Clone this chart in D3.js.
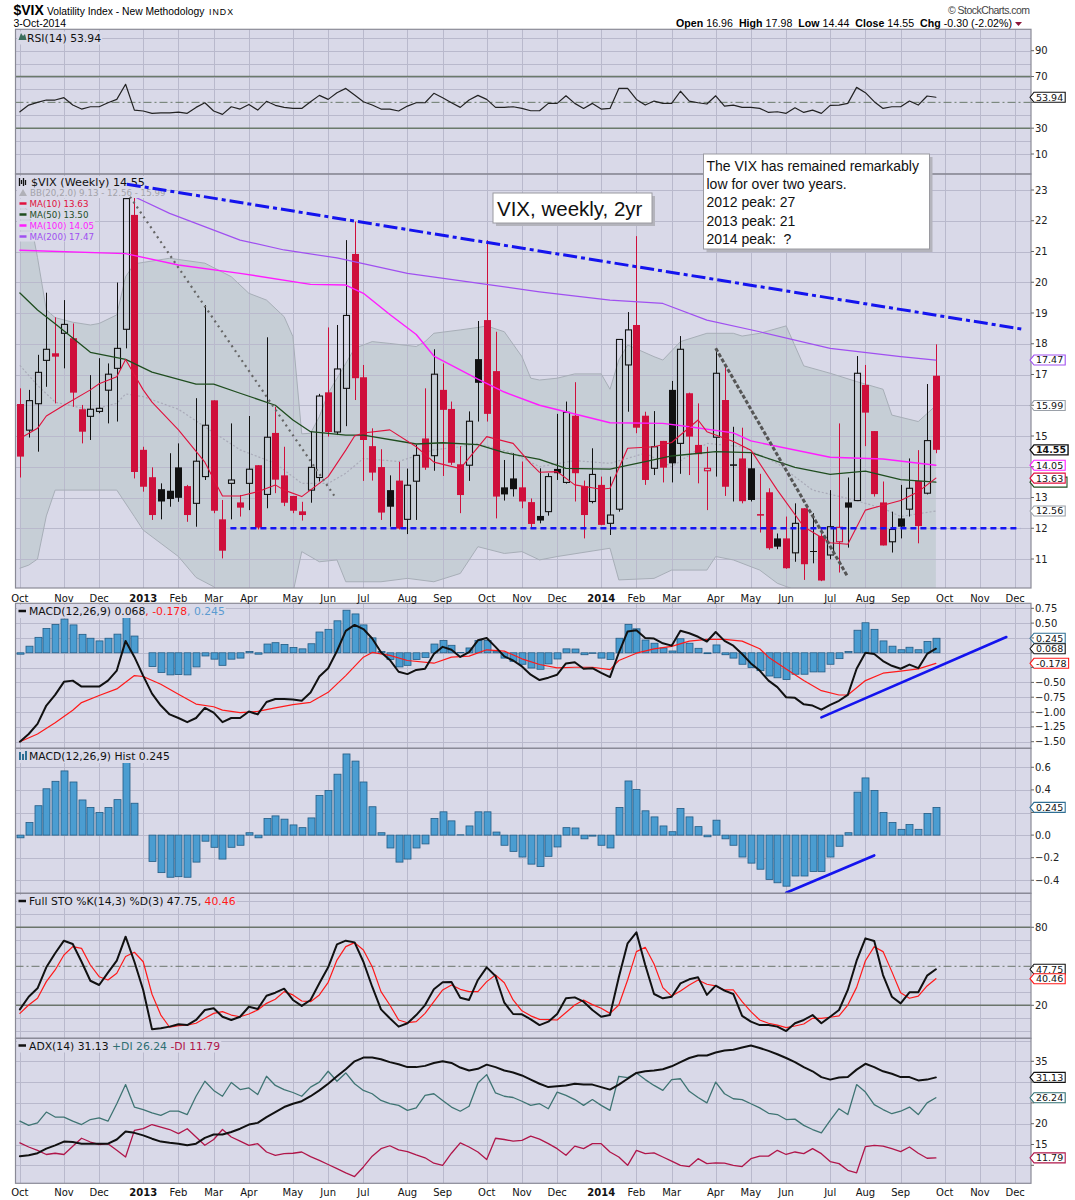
<!DOCTYPE html>
<html>
<head>
<meta charset="utf-8">
<title>$VIX weekly</title>
<script src="https://cdnjs.cloudflare.com/ajax/libs/d3/7.8.5/d3.min.js"></script>
<style>
  body { margin: 0; background: #fff; }
  svg { display: block; font-family: "DejaVu Sans", Verdana, sans-serif; }
  .arial { font-family: "Liberation Sans", Arial, sans-serif; }
</style>
</head>
<body>
<svg id="chart" width="1075" height="1200"></svg>
<script>
// weekly candles, index 0 = week of 1-Oct-2012, index 104 = week ending 3-Oct-2014
var opens = [16.04,15.19,16.05,17.46,17.69,18.34,18.18,15.87,15.64,15.80,
  16.49,17.20,18.47,22.19,14.55,13.66,13.27,13.22,13.98,13.37,
  12.81,13.68,16.16,12.29,13.46,12.84,13.46,14.05,13.10,15.10,
  13.72,13.05,12.55,13.24,13.65,16.42,15.13,16.55,20.92,16.91,
  14.67,13.99,13.24,13.55,12.29,13.53,14.92,14.36,16.50,15.88,
  14.08,14.05,17.50,18.77,17.11,13.33,13.62,13.33,12.85,12.40,
  12.54,13.93,13.49,15.66,13.37,12.87,13.41,12.16,12.62,17.31,
  18.61,15.66,13.95,14.84,16.50,14.76,16.39,14.71,13.87,14.96,
  16.17,14.08,14.27,13.95,12.46,13.17,11.67,11.67,11.20,12.65,
  11.26,11.75,11.13,11.56,12.84,12.90,16.66,15.16,12.84,11.56,
  12.32,12.62,13.54,13.14,16.96];
var highs = [16.55,16.50,17.64,19.66,18.86,19.42,18.66,16.01,16.98,17.53,
  17.36,19.99,22.75,22.94,14.65,13.98,13.46,14.44,14.76,13.41,
  16.23,19.26,16.16,12.92,15.41,13.08,15.65,14.05,18.21,15.95,
  14.65,13.05,12.86,15.14,16.37,18.53,18.61,21.37,21.97,17.31,
  15.25,14.57,13.72,14.16,13.94,14.71,16.55,17.82,17.36,16.12,
  14.67,15.80,18.74,21.37,18.39,14.22,14.44,14.17,12.97,13.95,
  13.79,15.72,16.12,16.75,13.55,14.60,13.68,13.68,18.14,19.03,
  21.50,15.79,15.81,14.84,16.79,18.25,16.41,16.06,14.65,17.85,
  17.25,15.30,15.27,14.44,13.77,13.30,11.83,12.38,12.81,12.65,
  12.49,11.99,13.24,15.41,13.65,17.60,17.31,15.16,13.52,12.54,
  13.41,14.27,14.54,16.69,17.98];
var lows = [13.65,14.95,14.49,16.60,16.06,17.20,15.95,14.76,14.87,15.74,
  15.41,15.47,17.85,13.62,13.19,12.27,12.29,12.70,12.86,12.21,
  12.05,13.57,12.49,11.02,12.29,12.38,12.59,11.96,12.65,13.14,
  12.72,12.49,12.25,12.83,13.52,14.98,15.03,15.32,16.17,13.54,
  13.55,12.27,12.05,11.96,11.81,12.27,13.90,13.87,13.70,14.06,
  12.49,13.54,15.47,15.47,12.32,12.90,13.03,12.65,12.00,12.16,
  12.41,13.57,13.45,12.87,11.67,12.81,12.10,11.78,12.54,15.79,
  15.09,13.41,13.73,13.49,13.49,13.77,13.73,13.46,12.59,13.68,
  13.05,12.87,12.81,12.87,11.86,11.30,11.32,10.68,10.91,10.32,
  10.86,10.28,10.99,10.56,11.37,12.90,14.67,13.03,11.44,11.21,
  11.67,12.38,11.51,13.10,14.44];
var closes = [14.33,16.15,17.07,17.82,17.58,18.63,16.41,15.14,15.87,15.90,
  17.01,17.85,22.72,13.83,13.35,12.43,12.87,12.95,12.99,12.43,
  14.18,15.35,12.57,11.27,13.57,12.67,13.92,12.02,14.96,13.58,
  12.83,12.57,12.43,13.98,16.30,15.13,17.18,18.92,16.88,14.87,
  13.81,12.51,12.70,11.99,13.40,14.37,13.97,17.01,15.85,14.13,
  13.08,15.48,16.73,15.72,13.03,13.10,13.27,12.87,12.14,12.25,
  13.68,13.79,15.77,13.79,12.43,13.75,12.11,12.43,18.14,18.45,
  15.27,13.57,14.65,13.97,14.11,17.82,14.98,14.41,13.95,17.04,
  13.35,14.03,12.88,12.92,12.41,11.35,11.40,10.70,12.16,10.83,
  11.23,10.30,12.05,12.03,12.67,17.04,15.76,13.11,11.44,11.96,
  12.05,13.30,12.07,14.85,14.55];

// price overlays, [week index, value]
var ma10 = [[0,14.92],[2,15.25],[3,15.65],[5,16.0],[8,16.5],[9,16.7],[11,16.93],[12,17.49],[14,16.5],[15,16.1],
  [18,15.2],[21,14.15],[23,13.05],[25,13.05],[27,13.19],[29,13.41],[30,13.24],[32,13.03],[35,13.68],[37,14.54],
  [38,15.0],[39,15.1],[42,15.2],[45,14.65],[47,14.15],[50,13.94],[53,14.98],[56,14.76],[58,14.1],[59,13.82],
  [61,13.84],[63,13.41],[66,13.27],[67,13.3],[69,14.6],[72,14.65],[74,14.79],[77,15.52],[78,15.14],[81,14.82],
  [83,14.54],[86,13.24],[89,12.05],[92,11.53],[94,11.48],[96,12.59],[98,12.75],[100,12.90],[102,13.19],[104,13.63]];
var ma50 = [[0,19.65],[2,19.1],[4,18.65],[8,17.72],[12,17.49],[15,17.08],[20,16.69],[22,16.69],[25,16.39],[29,16.0],
  [31,15.52],[33,15.14],[37,15.03],[39,15.03],[45,14.74],[48,14.78],[52,14.72],[55,14.46],[59,14.24],[62,13.95],
  [67,13.92],[71,14.17],[74,14.35],[79,14.49],[83,14.46],[88,13.98],[92,13.75],[96,13.86],[100,13.58],[104,13.50]];
var ma100 = [[0,21.04],[12,20.93],[18,20.56],[25,20.29],[33,19.93],[37,19.91],[39,19.64],[42,18.95],[45,18.3],[47,17.6],
  [52,16.85],[55,16.43],[59,16.0],[67,15.43],[73,15.41],[76,15.30],[81,15.10],[83,14.84],[92,14.31],[98,14.25],[104,14.05]];
var ma200 = [[13,22.78],[17,22.24],[25,21.37],[30,21.05],[36,20.79],[44,20.29],[59,19.69],[67,19.42],[73,19.31],[78,18.77],
  [84,18.39],[92,17.85],[100,17.58],[104,17.47]];
var bbUpper = [[0,22.6],[1,22.3],[2,20.8],[3,19.1],[4,18.85],[6,18.7],[8,18.61],[9,18.66],[11,18.94],[12,20.18],
  [13,20.6],[17,20.78],[21,20.62],[24,20.18],[26,19.64],[28,19.42],[30,18.88],[31,18.23],[32,15.07],[33,15.09],
  [34,15.63],[35,16.39],[37,17.36],[38,17.85],[40,18.07],[42,18.01],[45,17.91],[46,18.07],[47,18.34],[50,18.45],
  [52,18.53],[53,18.58],[55,18.39],[57,17.58],[58,16.88],[59,16.82],[61,16.88],[63,17.02],[66,17.02],[67,16.52],
  [68,17.47],[69,17.96],[72,17.58],[73,17.47],[75,18.07],[78,18.34],[81,18.34],[82,18.25],[84,18.34],[87,18.58],
  [89,17.28],[92,17.04],[95,16.77],[98,16.52],[99,15.68],[102,15.47],[104,15.99]];
var bbMiddle = [[0,17.3],[2,16.65],[4,16.1],[8,15.85],[11,16.06],[12,16.37],[14,16.28],[18,15.87],[21,15.30],[25,14.55],
  [29,14.11],[32,13.46],[35,13.46],[37,13.79],[39,14.27],[43,14.17],[47,14.55],[50,14.65],[52,14.76],[56,14.44],
  [59,14.0],[63,14.2],[67,14.11],[71,14.44],[74,14.0],[78,14.76],[82,14.65],[86,14.11],[90,13.24],[94,12.97],
  [98,12.65],[100,12.38],[104,12.56]];
var bbLower = [[0,10.7],[1,10.8],[2,11.0],[3,12.4],[4,13.24],[11,13.24],[13,12.38],[14,11.94],[18,11.08],[20,10.4],
  [22,10.10],[23,9.8],[27,9.6],[31,9.9],[32,11.24],[34,10.91],[36,10.97],[37,10.26],[41,10.26],[44,10.37],
  [47,10.26],[50,10.53],[52,11.40],[55,11.18],[57,11.24],[59,10.97],[61,11.08],[67,11.35],[68,10.32],[72,10.37],
  [74,10.64],[78,10.64],[79,11.08],[81,10.97],[84,10.64],[86,10.21],[88,10.0],[92,9.6],[98,9.35],[104,9.13]];

// indicator panels, one value per week
var rsi = [42.7,47.9,50.0,51.8,51.8,53.6,47.9,44.8,46.6,46.6, 49.7,52.3,64.0,44.0,43.3,41.5,41.9,41.9,42.5,41.5,
  46.1,49.7,43.3,40.7,46.6,44.8,48.4,44.0,50.8,47.7, 46.1,45.3,45.3,50.5,55.4,52.3,57.5,60.8,55.7,50.5,
  47.9,44.8,44.8,43.3,47.1,49.7,49.7,57.0,53.6,49.7, 46.1,51.8,55.4,52.3,46.1,46.1,46.6,45.3,43.5,43.5,
  49.2,49.2,55.1,49.2,45.3,49.2,44.8,45.3,60.8,60.8, 52.3,47.9,51.0,49.2,49.2,58.6,51.0,49.7,48.7,55.1,
  47.1,47.9,46.1,46.1,45.3,42.2,42.7,41.5,45.8,42.2, 44.0,41.5,47.7,47.9,49.2,61.6,57.5,50.5,45.3,46.6,
  46.6,51.0,47.9,54.9,53.94];
var macd = [-1.50,-1.37,-1.20,-0.89,-0.71,-0.49,-0.47,-0.57,-0.57,-0.57, -0.47,-0.30,0.20,-0.07,-0.39,-0.69,-0.89,-1.04,-1.10,-1.17,
  -1.10,-0.93,-1.01,-1.17,-1.10,-1.10,-0.99,-1.04,-0.83,-0.78, -0.78,-0.79,-0.81,-0.67,-0.40,-0.26,0.03,0.37,0.47,0.40,
  0.24,0.01,-0.12,-0.32,-0.36,-0.29,-0.27,-0.02,0.10,0.05, -0.07,0.01,0.21,0.25,0.10,-0.06,-0.13,-0.23,-0.37,-0.46,
  -0.42,-0.37,-0.18,-0.16,-0.27,-0.26,-0.34,-0.41,0.00,0.36, 0.38,0.25,0.24,0.16,0.12,0.37,0.33,0.27,0.19,0.35,
  0.20,0.12,-0.02,-0.18,-0.30,-0.47,-0.58,-0.75,-0.76,-0.87, -0.89,-0.96,-0.88,-0.81,-0.71,-0.27,0.00,-0.02,-0.14,-0.22,
  -0.27,-0.20,-0.26,-0.02,0.068];
var macdSignal = [[0,-1.50],[2,-1.37],[4,-1.18],[6,-0.97],[7,-0.84],[9,-0.72],[11,-0.61],[13,-0.385],[14,-0.40],[16,-0.53],
  [18,-0.70],[20,-0.865],[22,-0.91],[23,-0.967],[25,-1.01],[27,-0.99],[29,-0.93],[31,-0.876],[33,-0.836],[35,-0.667],
  [37,-0.385],[39,-0.074],[40,0.006],[42,-0.045],[44,-0.13],[47,-0.176],[49,-0.074],[51,-0.057],[53,0.05],[55,0.028],
  [57,-0.102],[59,-0.198],[61,-0.255],[63,-0.244],[65,-0.244],[67,-0.283],[68,-0.13],[70,-0.007],[72,0.067],[74,0.107],
  [76,0.197],[78,0.225],[80,0.225],[82,0.197],[84,0.067],[85,-0.074],[87,-0.272],[89,-0.469],[91,-0.639],[93,-0.712],
  [94,-0.712],[96,-0.469],[98,-0.345],[100,-0.311],[102,-0.272],[104,-0.178]];
var macdHist = [-0.024,0.111,0.260,0.410,0.476,0.568,0.470,0.311,0.245,0.200, 0.245,0.314,0.664,0.282,0.0,-0.233,-0.332,-0.373,-0.368,-0.373,
  -0.239,-0.054,-0.108,-0.212,-0.108,-0.090,0.021,-0.024,0.147,0.170, 0.141,0.090,0.066,0.152,0.350,0.395,0.539,0.718,0.655,0.470,
  0.251,0.021,-0.114,-0.239,-0.212,-0.114,-0.078,0.147,0.206,0.126, 0.003,0.081,0.206,0.206,0.027,-0.090,-0.144,-0.194,-0.257,-0.278,
  -0.188,-0.105,0.066,0.063,-0.033,-0.009,-0.090,-0.114,0.245,0.479, 0.404,0.215,0.161,0.081,0.030,0.236,0.161,0.075,-0.015,0.132,
  -0.033,-0.090,-0.194,-0.248,-0.302,-0.392,-0.422,-0.452,-0.362,-0.362, -0.323,-0.323,-0.194,-0.099,0.021,0.380,0.506,0.395,0.200,0.111,
  0.051,0.093,0.051,0.191,0.245];
var stoK = [16.9,26.6,33.1,49.2,60.0,69.7,67.2,53.5,38.9,35.6, 45.1,54.3,72.8,53.5,31.8,1.5,2.3,3.6,5.4,4.8,
  8.7,16.4,17.7,11.2,8.7,11.2,18.9,17.2,27.4,29.7, 32.8,24.1,19.5,24.1,36.9,49.2,66.9,69.7,68.4,53.5,
  34.3,16.9,10.0,3.6,6.2,12.5,20.2,32.3,37.7,37.9, 25.8,24.1,39.5,49.2,42.5,22.0,13.3,13.1,9.2,4.8,
  7.4,13.3,25.4,26.1,22.8,16.4,11.2,12.5,41.5,67.7, 76.1,51.0,28.7,25.4,26.6,36.9,40.0,41.5,28.0,35.1,
  31.3,28.7,11.9,7.4,4.8,4.8,3.6,0.2,6.2,8.7, 12.5,6.2,11.2,16.4,31.8,54.3,71.5,69.5,43.3,26.6,
  21.5,30.0,30.0,42.8,47.75];
var stoD = [13.8,20.2,25.4,38.2,47.2,58.7,65.1,63.8,51.0,42.0, 39.5,44.6,57.5,60.8,53.5,28.5,12.5,3.1,4.3,4.8,
  6.2,10.0,13.8,15.1,12.5,11.2,13.3,16.4,21.5,24.6, 30.5,28.0,23.3,22.8,28.0,37.7,54.8,65.1,68.2,62.6,
  49.7,30.5,20.2,8.7,6.6,7.4,13.8,22.8,31.8,35.6, 32.3,30.5,30.5,38.2,43.3,37.4,24.1,15.8,11.9,9.2,
  9.0,8.7,14.5,20.2,24.0,20.5,17.7,13.8,20.2,39.5, 61.3,64.6,51.8,33.6,27.1,31.0,35.6,39.5,36.2,34.9,
  31.8,31.8,22.8,15.1,8.7,6.2,4.8,2.8,4.1,5.6, 10.0,10.0,10.8,11.9,20.2,33.8,54.3,65.1,61.3,45.9,
  29.7,25.4,27.1,34.9,40.46];
var adx = [12.2,12.4,12.9,14.0,14.8,15.7,15.6,15.2,15.2,15.2, 15.2,16.2,18.1,17.8,17.2,16.4,15.7,15.4,15.2,14.8,
  15.2,16.6,17.4,17.4,18.0,18.8,19.8,20.2,21.6,22.8, 24.0,24.8,25.4,26.6,28.0,29.6,31.4,33.1,35.0,35.9,
  35.9,35.5,34.8,34.3,33.6,33.6,33.9,34.6,35.0,34.6, 33.5,32.8,33.2,34.2,33.6,32.8,32.3,31.6,30.6,29.6,
  28.8,29.0,29.2,29.6,29.4,29.4,28.8,28.2,29.4,30.8, 32.2,32.6,32.8,33.1,33.8,34.8,35.8,36.4,36.4,37.1,
  37.6,37.8,38.3,38.8,38.2,37.5,36.7,35.8,34.8,33.6, 32.6,31.2,30.6,31.1,31.2,33.0,34.4,33.6,32.6,32.0,
  31.2,31.2,30.4,30.6,31.13];
var plusDI = [20.6,19.6,20.2,22.8,21.6,21.6,20.6,19.8,21.0,21.4, 20.6,24.8,29.4,24.0,23.4,22.6,22.0,23.0,23.0,22.2,
  26.6,30.2,28.0,26.6,29.9,28.2,28.6,27.0,31.4,29.2, 28.2,27.5,26.6,28.8,30.0,32.6,30.2,32.2,29.6,28.0,
  27.2,25.6,24.8,24.4,23.2,23.8,26.8,27.2,25.6,24.0, 23.0,24.2,29.8,31.8,27.4,26.6,26.3,25.4,24.4,24.8,
  23.6,27.6,26.8,25.8,24.4,25.8,24.4,23.2,31.4,31.1, 32.2,30.6,29.2,28.0,30.6,30.8,27.8,26.3,25.0,30.0,
  27.2,26.0,25.8,24.8,23.8,22.5,22.2,21.0,21.1,19.6, 18.6,17.8,20.8,23.6,22.2,29.4,27.6,24.6,23.4,22.4,
  23.0,24.0,22.2,25.0,26.24];
var minusDI = [15.4,14.4,13.6,12.6,12.9,12.6,14.6,16.5,15.6,15.0, 15.2,13.6,12.0,18.4,18.8,19.8,19.2,18.6,17.6,18.8,
  16.8,14.8,16.2,18.6,16.8,15.8,14.8,15.2,13.2,12.4, 12.8,12.9,13.2,12.1,11.2,10.2,9.2,8.2,7.3,9.6,
  12.2,14.0,14.7,13.7,13.3,12.5,11.8,10.5,10.0,12.9, 15.4,14.4,13.2,11.4,16.5,16.2,15.8,16.0,17.0,16.3,
  15.2,14.0,12.4,14.6,14.0,15.2,15.2,13.2,12.0,10.0, 13.6,12.8,13.0,12.0,11.0,10.0,9.7,11.6,10.4,10.6,
  10.5,10.0,9.7,11.6,12.2,12.2,13.6,12.6,13.2,12.8, 14.0,12.8,10.9,10.4,8.8,8.2,14.5,14.8,14.6,14.0,
  13.3,14.4,12.9,11.7,11.79];

// hand drawn annotations, [week index, value]
var resistanceLine = [[12.15,23.19],[113.9,18.47]];
var supportLine = [[23.9,12],[113.6,12]];
var fallLine2013 = [[12.5,22.78],[35.9,12.97]];
var fallLine2014 = [[79,17.85],[94,10.42]];
var macdRiseLine = [[91,-1.09],[112,0.265]];
var histRiseLine = [[87,-0.51],[97,-0.18]];

// tick values for the right hand axes
var rsiTicks = [10, 30, 50, 70, 90];
var priceTicks = [11, 12, 13, 14, 15, 16, 17, 18, 19, 20, 21, 22, 23];
var macdTicks = [-1.5, -1.25, -1, -0.75, -0.5, -0.25, 0, 0.25, 0.5, 0.75];
var histTicks = [-0.4, -0.2, 0, 0.2, 0.4, 0.6];
var stoTicks = [20, 50, 80];
var adxTicks = [10, 15, 20, 25, 30, 35];

var noteLines = ["The VIX has remained remarkably", "low for over two years.", "2012 peak: 27", "2013 peak: 21", "2014 peak:  ?"];

// ---------------------------------------------------------------
var BG = "#d9d9e8", GRID = "#b9b9cc", BORDER = "#8a8a96";
var RED = "#cf0f3b", BLACK = "#111";
var plotL = 15.5, plotR = 1031;
var last = closes.length - 1;

var svg = d3.select("#chart");
var defs = svg.append("defs");
var x = d3.scaleLinear().domain([-0.5, 114.8]).range([plotL, plotR]);

// month grid: first weekly bar of each month
var weeks = d3.timeMonday.range(new Date(2012, 9, 1), new Date(2015, 0, 1));
var monthTicks = [];
weeks.forEach(function (d, i) {
	if (i === 0 || d.getMonth() !== weeks[i - 1].getMonth()) {
		monthTicks.push({ i: i, year: d.getMonth() === 0, label: d.getMonth() === 0 ? String(d.getFullYear()) : d3.timeFormat("%b")(d) });
	}
});
monthTicks = monthTicks.filter(function (t) { return x(t.i) < plotR - 2; });

function makePanel(name, top, bottom, y) {
	defs.append("clipPath").attr("id", "clip-" + name)
		.append("rect").attr("x", plotL).attr("y", top).attr("width", plotR - plotL).attr("height", bottom - top);
	svg.append("rect").attr("x", plotL).attr("y", top).attr("width", plotR - plotL).attr("height", bottom - top).attr("fill", BG);
	var g = svg.append("g").attr("clip-path", "url(#clip-" + name + ")");
	return { name: name, top: top, bottom: bottom, y: y, g: g, back: g.append("g"), grid: g.append("g"), front: g.append("g"), tags: [] };
}

function drawGrid(p, values) {
	p.grid.selectAll(null).data(monthTicks).enter().append("line")
		.attr("x1", function (d) { return Math.round(x(d.i)) + 0.5; })
		.attr("x2", function (d) { return Math.round(x(d.i)) + 0.5; })
		.attr("y1", p.top).attr("y2", p.bottom)
		.attr("stroke", GRID).attr("stroke-width", 1);
	p.grid.selectAll(null).data(values).enter().append("line")
		.attr("x1", plotL).attr("x2", plotR)
		.attr("y1", function (d) { return Math.round(p.y(d)) + 0.5; })
		.attr("y2", function (d) { return Math.round(p.y(d)) + 0.5; })
		.attr("stroke", GRID).attr("stroke-width", 1);
}

function hline(p, v, color, width, dash) {
	p.front.append("line").attr("x1", plotL).attr("x2", plotR)
		.attr("y1", p.y(v)).attr("y2", p.y(v))
		.attr("stroke", color).attr("stroke-width", width).attr("stroke-dasharray", dash || null);
}

function drawLine(p, pts, color, width, dash) {
	var gen = d3.line().x(function (d) { return x(d[0]); }).y(function (d) { return p.y(d[1]); });
	p.front.append("path").attr("d", gen(pts))
		.attr("fill", "none").attr("stroke", color).attr("stroke-width", width)
		.attr("stroke-dasharray", dash || null).attr("stroke-linejoin", "round").attr("stroke-linecap", dash ? "butt" : "round");
}

function perWeek(arr) { return arr.map(function (v, i) { return [i, v]; }); }
function lastOf(pts) { return pts[pts.length - 1][1]; }

// right axis labels, skipping the ones hidden behind value tags
function axisLabels(p, values, fmt) {
	values.forEach(function (v) {
		var yy = p.y(v);
		svg.append("line").attr("x1", plotR).attr("x2", plotR + 3).attr("y1", yy).attr("y2", yy).attr("stroke", "#666");
		var hidden = p.tags.some(function (t) { return Math.abs(t - yy) < 8; });
		if (!hidden) svg.append("text").attr("x", plotR + 4).attr("y", yy + 3.5).attr("font-size", 10).attr("fill", "#222").text(fmt(v));
	});
}

function border(p) {
	svg.append("rect").attr("x", plotL).attr("y", p.top).attr("width", plotR - plotL).attr("height", p.bottom - p.top)
		.attr("fill", "none").attr("stroke", BORDER).attr("stroke-width", 1.2);
}

// value tag on the right axis; label null draws only the frame
function tag(p, value, label, color, bold) {
	var yy = p.y(value);
	p.tags.push(yy);
	var g = svg.append("g");
	var path = g.append("path");
	var w = 29;
	if (label !== null) {
		var t = g.append("text").attr("x", plotR + 5).attr("y", yy + 3.4).attr("font-size", 9.5)
			.attr("font-weight", bold ? "bold" : null).attr("fill", "#111").text(label);
		w = t.node().getComputedTextLength();
	}
	var x0 = plotR - 1, x1 = plotR + 3, x2 = plotR + 7 + w;
	path.attr("d", "M" + x0 + "," + yy + "L" + x1 + "," + (yy - 5) + "L" + x2 + "," + (yy - 5) + "L" + x2 + "," + (yy + 5) + "L" + x1 + "," + (yy + 5) + "Z")
		.attr("fill", "#fff").attr("stroke", color).attr("stroke-width", bold ? 1.4 : 1.1);
}

function legend(p, xPos, yBase, size, parts) {
	var g = p.front.append("g");
	var bg = g.append("rect");
	var t = g.append("text").attr("x", xPos).attr("y", yBase).attr("font-size", size);
	parts.forEach(function (pt) { t.append("tspan").attr("fill", pt[1]).text(pt[0]); });
	var bb = t.node().getBBox();
	bg.attr("x", 17).attr("y", bb.y).attr("width", bb.x + bb.width - 16).attr("height", bb.height).attr("fill", BG);
	return g;
}

function swatch(p, yy, color) {
	p.front.append("line").attr("x1", 19.5).attr("x2", 26.5).attr("y1", yy).attr("y2", yy).attr("stroke", color).attr("stroke-width", 2.5);
}

function monthAxis(yBase) {
	svg.selectAll(null).data(monthTicks).enter().append("text")
		.attr("x", function (d) { return x(d.i); }).attr("y", yBase)
		.attr("text-anchor", "middle").attr("font-size", 10)
		.attr("font-weight", function (d) { return d.year ? "bold" : null; })
		.attr("fill", "#111").text(function (d) { return d.label; });
}

// ---------------- header
svg.append("text").attr("class", "arial").attr("x", 13.5).attr("y", 14.5)
	.attr("font-size", 14).attr("font-weight", "bold").text("$VIX");
svg.append("text").attr("class", "arial").attr("x", 47).attr("y", 14.5)
	.attr("font-size", 10.3).text("Volatility Index - New Methodology");
svg.append("text").attr("class", "arial").attr("x", 209).attr("y", 14.5)
	.attr("font-size", 8.8).attr("letter-spacing", 1).text("INDX");
svg.append("text").attr("class", "arial").attr("x", 13.5).attr("y", 26.5)
	.attr("font-size", 10.5).text("3-Oct-2014");
svg.append("text").attr("class", "arial").attr("x", 948).attr("y", 14)
	.attr("font-size", 10.5).attr("fill", "#444").attr("textLength", 82).attr("lengthAdjust", "spacing")
	.text("\u00a9 StockCharts.com");
var chg = closes[last] - closes[last - 1];
var hdr = svg.append("text").attr("class", "arial").attr("x", 676).attr("y", 26.5)
	.attr("font-size", 10.6).attr("style", "white-space:pre").attr("textLength", 336).attr("lengthAdjust", "spacing");
[["Open", true], [" " + opens[last].toFixed(2) + "  ", false], ["High", true], [" " + highs[last].toFixed(2) + "  ", false],
 ["Low", true], [" " + lows[last].toFixed(2) + "  ", false], ["Close", true], [" " + closes[last].toFixed(2) + "  ", false],
 ["Chg", true], [" " + chg.toFixed(2) + " (" + (chg / closes[last - 1] * 100).toFixed(2) + "%)", false]].forEach(function (s) {
	hdr.append("tspan").attr("font-weight", s[1] ? "bold" : null).text(s[0]);
});
svg.append("path").attr("d", "M1015,22L1022,22L1018.5,26Z").attr("fill", "#8b1538");

// ---------------- RSI panel
var rsiP = makePanel("rsi", 29.3, 174, d3.scaleLinear().domain([10, 90]).range([154, 50.7]));
drawGrid(rsiP, [10, 20, 30, 40, 60, 70, 80, 90, 100]);
hline(rsiP, 70, "#6b7a6b", 1.4);
hline(rsiP, 30, "#6b7a6b", 1.4);
hline(rsiP, 50, "#6b7a6b", 1, "8,3,2,3");
drawLine(rsiP, perWeek(rsi), "#222", 1.2);
legend(rsiP, 27, 41.5, 10.8, [["RSI(14) " + rsi[last].toFixed(2), "#111"]]);
rsiP.front.append("path").attr("d", "M18.5,40L21,33L23,36L25,34L26.5,40Z").attr("fill", "#3c6e5e");

// ---------------- price panel
var priceP = makePanel("main", 174, 588, d3.scaleLinear().domain([11, 23]).range([559, 190]));
var bbPts = bbUpper.concat(bbLower.slice().reverse());
priceP.back.append("path")
	.attr("d", d3.line().x(function (d) { return x(d[0]); }).y(function (d) { return priceP.y(d[1]); })(bbPts) + "Z")
	.attr("fill", "#c6ced6");
drawGrid(priceP, priceTicks);
drawLine(priceP, bbUpper, "#a7aeb7", 1);
drawLine(priceP, bbLower, "#a7aeb7", 1);
drawLine(priceP, bbMiddle, "#a9aab8", 1.2, "2,2");

var bodyW = 6;
closes.forEach(function (c, i) {
	var o = opens[i], hi = highs[i], lo = lows[i];
	var down = i === 0 ? c < o : c < closes[i - 1];
	var col = down ? RED : BLACK;
	var hollow = c > o;
	var xc = Math.round(x(i)) + 0.5;
	var yTop = priceP.y(Math.max(o, c)), yBot = priceP.y(Math.min(o, c));
	var h = Math.max(1, yBot - yTop);
	if (hollow) {
		priceP.front.append("line").attr("x1", xc).attr("x2", xc).attr("y1", priceP.y(hi)).attr("y2", yTop).attr("stroke", col);
		priceP.front.append("line").attr("x1", xc).attr("x2", xc).attr("y1", yTop + h).attr("y2", priceP.y(lo)).attr("stroke", col);
		priceP.front.append("rect").attr("x", xc - bodyW / 2).attr("y", yTop).attr("width", bodyW).attr("height", h)
			.attr("fill", "none").attr("stroke", col).attr("stroke-width", 1.1);
	} else {
		priceP.front.append("line").attr("x1", xc).attr("x2", xc).attr("y1", priceP.y(hi)).attr("y2", priceP.y(lo)).attr("stroke", col);
		priceP.front.append("rect").attr("x", xc - bodyW / 2 - 0.5).attr("y", yTop).attr("width", bodyW + 1).attr("height", h).attr("fill", col);
	}
});

drawLine(priceP, ma200, "#a050f0", 1.2);
drawLine(priceP, ma100, "#ff1cff", 1.4);
drawLine(priceP, ma50, "#1f4d1f", 1.3);
drawLine(priceP, ma10, "#e0103c", 1.1);

legend(priceP, 31, 186, 11.2, [["$VIX (Weekly) " + closes[last].toFixed(2), "#111"]]);
priceP.front.append("path").attr("d", "M19.5,178v8M21.5,180v4M23.5,178v8M25.5,180v5").attr("stroke", "#111").attr("stroke-width", 1.3);
legend(priceP, 30, 196, 8.7, [["BB(20,2.0) " + lastOf(bbLower).toFixed(2) + " - " + lastOf(bbMiddle).toFixed(2) + " - " + lastOf(bbUpper).toFixed(2), "#a3a3a8"]]);
priceP.front.append("path").attr("d", "M19,196L23,189L27,196Z").attr("fill", "#b0b0b8");
var maLegend = [["MA(10) ", ma10, "#e0103c"], ["MA(50) ", ma50, "#1f4d1f"], ["MA(100) ", ma100, "#ff1cff"], ["MA(200) ", ma200, "#a050f0"]];
maLegend.forEach(function (m, k) {
	var yb = 206.5 + k * 11;
	legend(priceP, 29.5, yb, 8.7, [[m[0] + lastOf(m[1]).toFixed(2), m[2]]]);
	swatch(priceP, yb - 3, m[2]);
});

drawLine(priceP, supportLine, "#1414f5", 2.5, "6,4");
drawLine(priceP, resistanceLine, "#1414ee", 3, "14,4,4,4");
drawLine(priceP, fallLine2013, "#666", 2.2, "2,4");
drawLine(priceP, fallLine2014, "#555", 3, "4,2");

// ---------------- MACD panel
var macdP = makePanel("macd", 603.3, 748.3, d3.scaleLinear().domain([-1.5, 0.75]).range([741.7, 608.3]));
drawGrid(macdP, macdTicks);
macdP.front.selectAll(null).data(macdHist).enter().append("rect")
	.attr("x", function (d, i) { return Math.round(x(i)) - 3; })
	.attr("y", function (d) { return macdP.y(Math.max(0, d)); })
	.attr("width", 7)
	.attr("height", function (d) { return Math.abs(macdP.y(d) - macdP.y(0)); })
	.attr("fill", "#4b9dd1").attr("stroke", "#215b84").attr("stroke-width", 0.8);
drawLine(macdP, macdSignal, "#ff1a1a", 1.2);
drawLine(macdP, perWeek(macd), "#111", 2);
drawLine(macdP, macdRiseLine, "#1414ee", 2.6);
legend(macdP, 29, 615, 10.8, [["MACD(12,26,9) " + macd[last].toFixed(3), "#111"], [", " + lastOf(macdSignal).toFixed(3), "#ff1a1a"], [", " + macdHist[last].toFixed(3), "#5b9bd0"]]);
macdP.front.append("line").attr("x1", 18.5).attr("x2", 26).attr("y1", 611).attr("y2", 611).attr("stroke", "#111").attr("stroke-width", 2.5);

// ---------------- MACD histogram panel
var histP = makePanel("hist", 748.3, 893.3, d3.scaleLinear().domain([-0.4, 0.6]).range([880.3, 767.3]));
drawGrid(histP, histTicks);
histP.front.selectAll(null).data(macdHist).enter().append("rect")
	.attr("x", function (d, i) { return Math.round(x(i)) - 3; })
	.attr("y", function (d) { return histP.y(Math.max(0, d)); })
	.attr("width", 7)
	.attr("height", function (d) { return Math.abs(histP.y(d) - histP.y(0)); })
	.attr("fill", "#4b9dd1").attr("stroke", "#215b84").attr("stroke-width", 0.8);
drawLine(histP, histRiseLine, "#1414ee", 2.6);
legend(histP, 29, 760, 10.8, [["MACD(12,26,9) Hist " + macdHist[last].toFixed(3), "#111"]]);
histP.front.append("path").attr("d", "M19,752h2v8h-2ZM22,754h2v6h-2ZM25,751h2v9h-2Z").attr("fill", "#2f6f94");

// ---------------- stochastics panel
var stoP = makePanel("sto", 893.3, 1038.3, d3.scaleLinear().domain([20, 80]).range([1005.3, 927.3]));
drawGrid(stoP, [0, 10, 30, 40, 60, 70, 90, 100]);
hline(stoP, 80, "#6b756b", 1.4);
hline(stoP, 20, "#6b756b", 1.4);
hline(stoP, 50, "#6b756b", 1, "8,3,2,3");
drawLine(stoP, perWeek(stoD), "#ff1a1a", 1.2);
drawLine(stoP, perWeek(stoK), "#111", 2);
legend(stoP, 29, 905, 10.8, [["Full STO %K(14,3) %D(3) " + stoK[last].toFixed(2) + ", ", "#111"], [stoD[last].toFixed(2), "#ff1a1a"]]);
stoP.front.append("line").attr("x1", 18.5).attr("x2", 26).attr("y1", 901).attr("y2", 901).attr("stroke", "#111").attr("stroke-width", 2.5);

// ---------------- ADX panel
var adxP = makePanel("adx", 1038.3, 1183.3, d3.scaleLinear().domain([10, 35]).range([1165.3, 1061.3]));
drawGrid(adxP, [5, 10, 15, 20, 25, 30, 35, 40, 45]);
drawLine(adxP, perWeek(minusDI), "#b0164a", 1.3);
drawLine(adxP, perWeek(plusDI), "#3f7473", 1.3);
drawLine(adxP, perWeek(adx), "#111", 2);
legend(adxP, 29, 1049.5, 10.8, [["ADX(14) " + adx[last].toFixed(2) + " ", "#111"], ["+DI " + plusDI[last].toFixed(2) + " ", "#2f6f72"], ["-DI " + minusDI[last].toFixed(2), "#b0164a"]]);
adxP.front.append("line").attr("x1", 18.5).attr("x2", 26).attr("y1", 1045.5).attr("y2", 1045.5).attr("stroke", "#111").attr("stroke-width", 2.5);

// ---------------- borders, value tags, axes
[rsiP, priceP, macdP, histP, stoP, adxP].forEach(border);
monthAxis(601.5);
monthAxis(1195.5);

tag(rsiP, rsi[last], rsi[last].toFixed(2), "#111");

tag(priceP, lastOf(ma200), lastOf(ma200).toFixed(2), "#a050f0");
tag(priceP, lastOf(bbUpper), lastOf(bbUpper).toFixed(2), "#9aa0a8");
tag(priceP, closes[last], closes[last].toFixed(2), "#111", true);
tag(priceP, lastOf(ma100), lastOf(ma100).toFixed(2), "#ff1cff");
tag(priceP, lastOf(ma50), null, "#1f4d1f");
tag(priceP, lastOf(ma10), lastOf(ma10).toFixed(2), "#e0103c");
tag(priceP, lastOf(bbMiddle), lastOf(bbMiddle).toFixed(2), "#9aa0a8");

tag(macdP, macdHist[last], macdHist[last].toFixed(3), "#2f6f94");
tag(macdP, macd[last], macd[last].toFixed(3), "#111");
tag(macdP, lastOf(macdSignal), lastOf(macdSignal).toFixed(3), "#ff1a1a");
tag(histP, macdHist[last], macdHist[last].toFixed(3), "#2f6f94");
tag(stoP, stoK[last], stoK[last].toFixed(2), "#111");
tag(stoP, stoD[last], stoD[last].toFixed(2), "#ff1a1a");
tag(adxP, adx[last], adx[last].toFixed(2), "#111");
tag(adxP, plusDI[last], plusDI[last].toFixed(2), "#2f6f72");
tag(adxP, minusDI[last], minusDI[last].toFixed(2), "#b0164a");

axisLabels(rsiP, rsiTicks, d3.format("d"));
axisLabels(priceP, priceTicks, d3.format("d"));
axisLabels(macdP, macdTicks, d3.format(".2f"));
axisLabels(histP, histTicks, d3.format(".1f"));
axisLabels(stoP, stoTicks, d3.format("d"));
axisLabels(adxP, adxTicks, d3.format("d"));

// ---------------- text annotations
function noteBox(x0, y0, w, h) {
	svg.append("rect").attr("x", x0 + 3).attr("y", y0 + 3).attr("width", w).attr("height", h).attr("fill", "#b4b4bc");
	svg.append("rect").attr("x", x0).attr("y", y0).attr("width", w).attr("height", h).attr("fill", "#fff").attr("stroke", "#9a9aa0");
}
noteBox(493, 193, 159, 30);
svg.append("text").attr("class", "arial").attr("x", 497).attr("y", 216).attr("font-size", 20.5)
	.attr("fill", "#111").text("VIX, weekly, 2yr");
noteBox(703.5, 154, 226, 95);
noteLines.forEach(function (s, k) {
	svg.append("text").attr("class", "arial").attr("x", 706.5).attr("y", 171 + k * 18.2)
		.attr("font-size", 14).attr("fill", "#111").attr("style", "white-space:pre").text(s);
});
</script>
</body>
</html>
